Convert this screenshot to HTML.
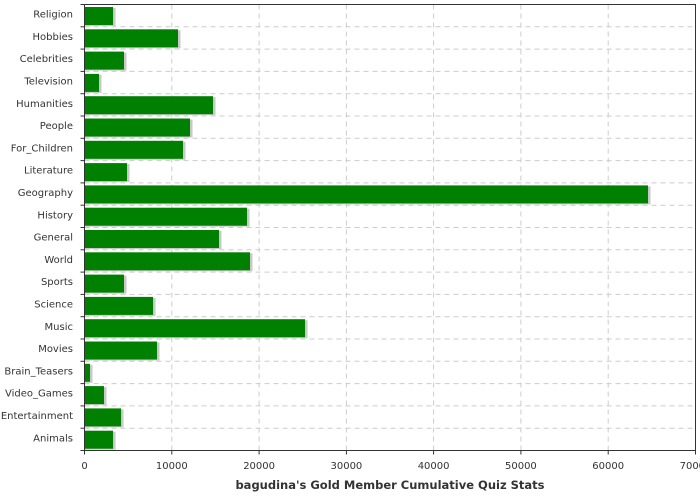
<!DOCTYPE html>
<html><head><meta charset="utf-8"><style>body{margin:0;background:#fff}svg{display:block}text{font-family:"DejaVu Sans","Liberation Sans",sans-serif;fill:#333}</style></head><body>
<svg width="700" height="500" xmlns="http://www.w3.org/2000/svg">
<g stroke="#ccc" stroke-dasharray="5,4">
<line x1="171.8" y1="4.5" x2="171.8" y2="450.5"/><line x1="259.1" y1="4.5" x2="259.1" y2="450.5"/><line x1="346.4" y1="4.5" x2="346.4" y2="450.5"/><line x1="433.6" y1="4.5" x2="433.6" y2="450.5"/><line x1="520.9" y1="4.5" x2="520.9" y2="450.5"/><line x1="608.2" y1="4.5" x2="608.2" y2="450.5"/>
<line x1="84.5" y1="26.8" x2="695.5" y2="26.8"/><line x1="84.5" y1="49.1" x2="695.5" y2="49.1"/><line x1="84.5" y1="71.4" x2="695.5" y2="71.4"/><line x1="84.5" y1="93.7" x2="695.5" y2="93.7"/><line x1="84.5" y1="116" x2="695.5" y2="116"/><line x1="84.5" y1="138.3" x2="695.5" y2="138.3"/><line x1="84.5" y1="160.6" x2="695.5" y2="160.6"/><line x1="84.5" y1="182.9" x2="695.5" y2="182.9"/><line x1="84.5" y1="205.2" x2="695.5" y2="205.2"/><line x1="84.5" y1="227.5" x2="695.5" y2="227.5"/><line x1="84.5" y1="249.8" x2="695.5" y2="249.8"/><line x1="84.5" y1="272.1" x2="695.5" y2="272.1"/><line x1="84.5" y1="294.4" x2="695.5" y2="294.4"/><line x1="84.5" y1="316.7" x2="695.5" y2="316.7"/><line x1="84.5" y1="339" x2="695.5" y2="339"/><line x1="84.5" y1="361.3" x2="695.5" y2="361.3"/><line x1="84.5" y1="383.6" x2="695.5" y2="383.6"/><line x1="84.5" y1="405.9" x2="695.5" y2="405.9"/><line x1="84.5" y1="428.2" x2="695.5" y2="428.2"/>
</g>
<g fill="#c8c8c8">
<rect x="85" y="8" width="30.5" height="18"/><rect x="85" y="30.3" width="95.5" height="18"/><rect x="85" y="52.6" width="41.5" height="18"/><rect x="85" y="74.9" width="16.5" height="18"/><rect x="85" y="97.2" width="130.5" height="18"/><rect x="85" y="119.5" width="107.5" height="18"/><rect x="85" y="141.8" width="100.5" height="18"/><rect x="85" y="164.1" width="44.5" height="18"/><rect x="85" y="186.4" width="565.5" height="18"/><rect x="85" y="208.7" width="164.5" height="18"/><rect x="85" y="231" width="136.5" height="18"/><rect x="85" y="253.3" width="167.5" height="18"/><rect x="85" y="275.6" width="41.5" height="18"/><rect x="85" y="297.9" width="70.5" height="18"/><rect x="85" y="320.2" width="222.5" height="18"/><rect x="85" y="342.5" width="74.5" height="18"/><rect x="85" y="364.8" width="7.5" height="18"/><rect x="85" y="387.1" width="21.5" height="18"/><rect x="85" y="409.4" width="38.5" height="18"/><rect x="85" y="431.7" width="30.5" height="18"/>
</g>
<g fill="#008000">
<rect x="84.5" y="7" width="28.5" height="18"/><rect x="84.5" y="29.3" width="93.5" height="18"/><rect x="84.5" y="51.6" width="39.5" height="18"/><rect x="84.5" y="73.9" width="14.5" height="18"/><rect x="84.5" y="96.2" width="128.5" height="18"/><rect x="84.5" y="118.5" width="105.5" height="18"/><rect x="84.5" y="140.8" width="98.5" height="18"/><rect x="84.5" y="163.1" width="42.5" height="18"/><rect x="84.5" y="185.4" width="563.5" height="18"/><rect x="84.5" y="207.7" width="162.5" height="18"/><rect x="84.5" y="230" width="134.5" height="18"/><rect x="84.5" y="252.3" width="165.5" height="18"/><rect x="84.5" y="274.6" width="39.5" height="18"/><rect x="84.5" y="296.9" width="68.5" height="18"/><rect x="84.5" y="319.2" width="220.5" height="18"/><rect x="84.5" y="341.5" width="72.5" height="18"/><rect x="84.5" y="363.8" width="5.5" height="18"/><rect x="84.5" y="386.1" width="19.5" height="18"/><rect x="84.5" y="408.4" width="36.5" height="18"/><rect x="84.5" y="430.7" width="28.5" height="18"/>
</g>
<g font-size="10" text-anchor="end">
<text x="73" y="17.6">Religion</text><text x="73" y="39.9">Hobbies</text><text x="73" y="62.2">Celebrities</text><text x="73" y="84.5">Television</text><text x="73" y="106.8">Humanities</text><text x="73" y="129.1">People</text><text x="73" y="151.4">For_Children</text><text x="73" y="173.7">Literature</text><text x="73" y="196">Geography</text><text x="73" y="218.3">History</text><text x="73" y="240.6">General</text><text x="73" y="262.9">World</text><text x="73" y="285.2">Sports</text><text x="73" y="307.5">Science</text><text x="73" y="329.8">Music</text><text x="73" y="352.1">Movies</text><text x="73" y="374.4">Brain_Teasers</text><text x="73" y="396.7">Video_Games</text><text x="73" y="419">Entertainment</text><text x="73" y="441.3">Animals</text>
</g>
<g stroke="#333">
<line x1="80.5" y1="4.5" x2="84.5" y2="4.5"/><line x1="80.5" y1="26.8" x2="84.5" y2="26.8"/><line x1="80.5" y1="49.1" x2="84.5" y2="49.1"/><line x1="80.5" y1="71.4" x2="84.5" y2="71.4"/><line x1="80.5" y1="93.7" x2="84.5" y2="93.7"/><line x1="80.5" y1="116" x2="84.5" y2="116"/><line x1="80.5" y1="138.3" x2="84.5" y2="138.3"/><line x1="80.5" y1="160.6" x2="84.5" y2="160.6"/><line x1="80.5" y1="182.9" x2="84.5" y2="182.9"/><line x1="80.5" y1="205.2" x2="84.5" y2="205.2"/><line x1="80.5" y1="227.5" x2="84.5" y2="227.5"/><line x1="80.5" y1="249.8" x2="84.5" y2="249.8"/><line x1="80.5" y1="272.1" x2="84.5" y2="272.1"/><line x1="80.5" y1="294.4" x2="84.5" y2="294.4"/><line x1="80.5" y1="316.7" x2="84.5" y2="316.7"/><line x1="80.5" y1="339" x2="84.5" y2="339"/><line x1="80.5" y1="361.3" x2="84.5" y2="361.3"/><line x1="80.5" y1="383.6" x2="84.5" y2="383.6"/><line x1="80.5" y1="405.9" x2="84.5" y2="405.9"/><line x1="80.5" y1="428.2" x2="84.5" y2="428.2"/><line x1="80.5" y1="450.5" x2="84.5" y2="450.5"/>
<line x1="84.5" y1="450.5" x2="84.5" y2="454.5"/><line x1="171.8" y1="450.5" x2="171.8" y2="454.5"/><line x1="259.1" y1="450.5" x2="259.1" y2="454.5"/><line x1="346.4" y1="450.5" x2="346.4" y2="454.5"/><line x1="433.6" y1="450.5" x2="433.6" y2="454.5"/><line x1="520.9" y1="450.5" x2="520.9" y2="454.5"/><line x1="608.2" y1="450.5" x2="608.2" y2="454.5"/><line x1="695.5" y1="450.5" x2="695.5" y2="454.5"/>
<rect x="84.5" y="4.5" width="611" height="446" fill="none"/>
</g>
<g font-size="10" text-anchor="middle">
<text x="84.5" y="469">0</text><text x="171.8" y="469">10000</text><text x="259.1" y="469">20000</text><text x="346.4" y="469">30000</text><text x="433.6" y="469">40000</text><text x="520.9" y="469">50000</text><text x="608.2" y="469">60000</text><text x="695.5" y="469">70000</text>
</g>
<text x="390" y="489" font-size="11.5" font-weight="bold" text-anchor="middle">bagudina's Gold Member Cumulative Quiz Stats</text>
</svg>
</body></html>
